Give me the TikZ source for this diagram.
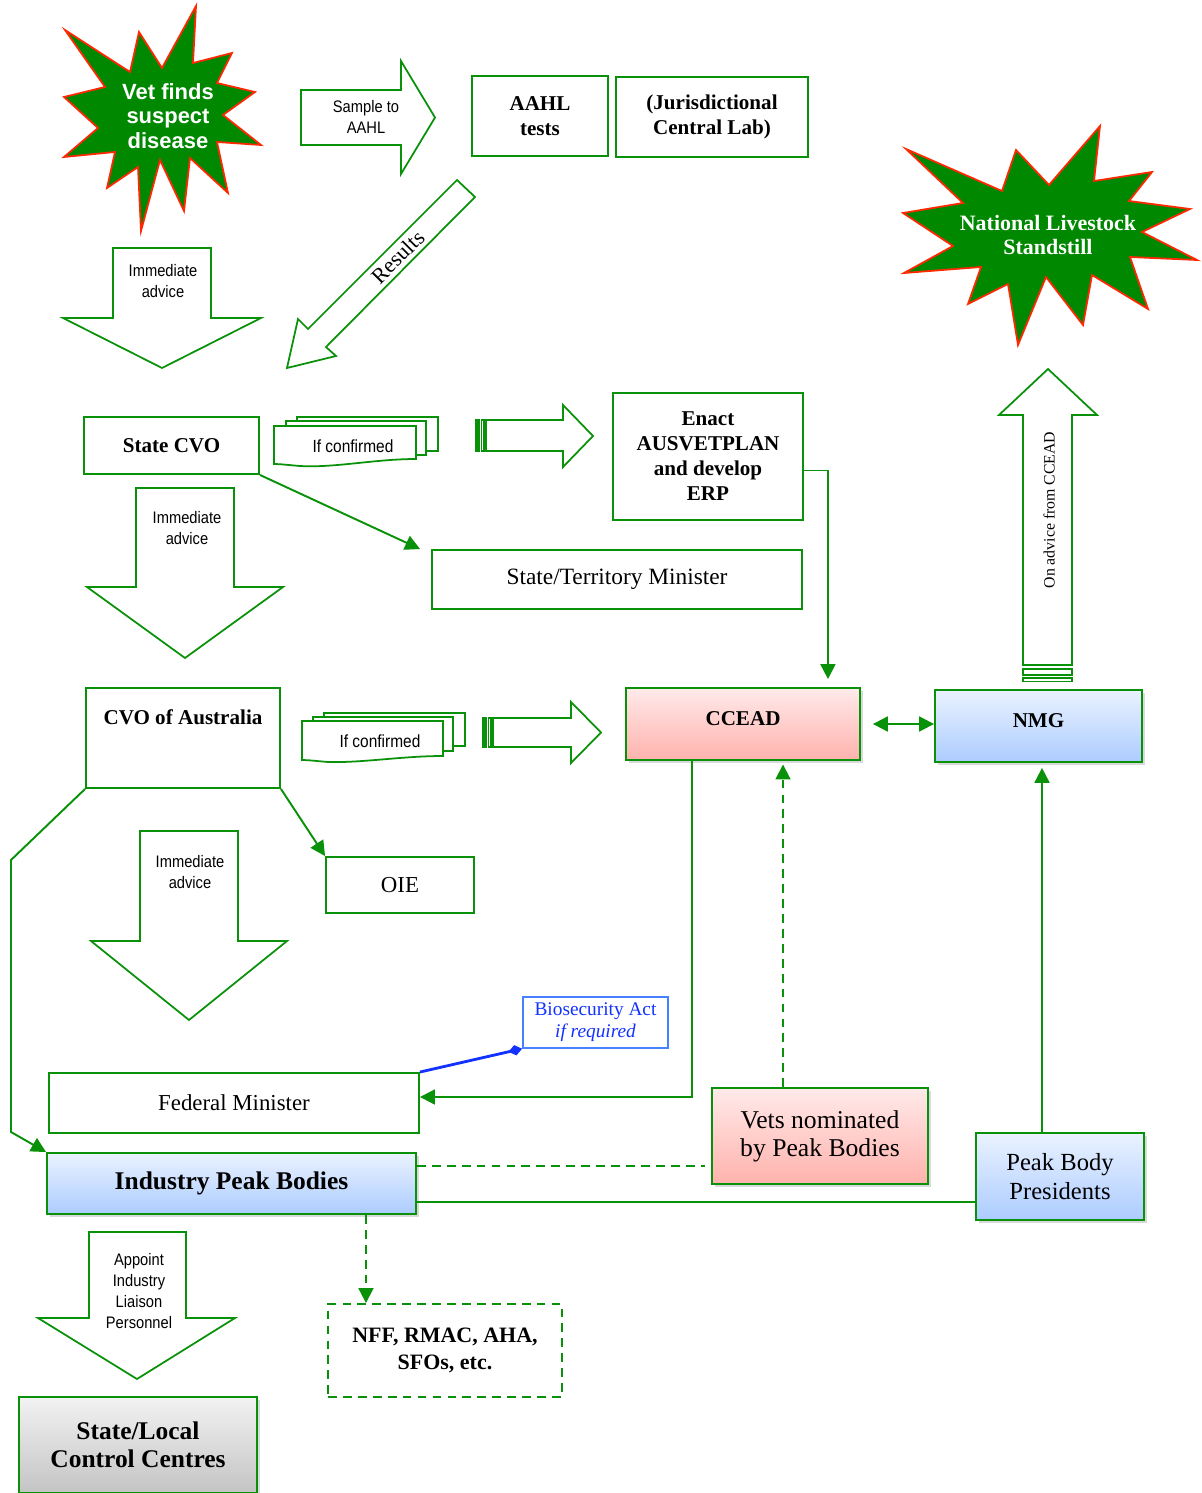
\documentclass[tikz,border=0pt]{standalone}
\usepackage{fontspec}
\setmainfont{Liberation Serif}
\setsansfont{Liberation Sans}
\newfontfamily\narrowsans[FakeStretch=0.88]{Liberation Sans}
\usepackage{tikz}
\usetikzlibrary{arrows.meta,shadows}
\definecolor{lgreen}{RGB}{10,145,10}
\definecolor{stargreen}{RGB}{0,136,0}
\definecolor{starred}{RGB}{255,40,0}
\definecolor{biblue}{RGB}{20,50,255}
\definecolor{bioframe}{RGB}{70,130,255}
\definecolor{pinktop}{RGB}{255,234,234}
\definecolor{pinkbot}{RGB}{255,178,172}
\definecolor{bluetop}{RGB}{234,242,255}
\definecolor{bluebot}{RGB}{172,204,255}
\definecolor{greytop}{RGB}{242,242,242}
\definecolor{greybot}{RGB}{196,196,196}

\begin{document}
\begin{tikzpicture}[x=0.02cm, y=-0.02cm,
  box/.style={draw=lgreen, line width=1.1pt, rectangle, align=center, fill=white},
  hbox/.style={box, font=\bfseries\fontsize{12}{14.2}\selectfont},
  rbox/.style={box, font=\fontsize{13}{15}\selectfont},
  shadowed/.style={drop shadow={opacity=0.3, shadow xshift=1.5pt, shadow yshift=-1.5pt}},
  pinkbox/.style={box, shadowed, top color=pinktop, bottom color=pinkbot},
  bluebox/.style={box, shadowed, top color=bluetop, bottom color=bluebot},
  greybox/.style={box, shadowed, top color=greytop, bottom color=greybot},
  conn/.style={draw=lgreen, line width=1.1pt, -{Triangle[length=8.5pt,width=8.5pt]}},
  dconn/.style={conn, dash pattern=on 5pt off 3.5pt},
  blockarrow/.style={draw=lgreen, line width=1pt, fill=white, line join=miter},
  doc/.style={draw=lgreen, line width=1pt, fill=white},
  arrowtext/.style={font=\narrowsans\fontsize{9.5}{11.5}\selectfont, align=center},
  burst/.style={fill=stargreen, draw=starred, line width=1pt, line join=miter}
]
\useasboundingbox (0,0) rectangle (1202,1493);

% Stars
\filldraw[burst] (196,6) -- (193,63) -- (232,53) -- (217,83) -- (255,92) -- (223,115)
  -- (261,145) -- (217,142) -- (228,193) -- (190,158) -- (184,211) -- (160,160)
  -- (141,231) -- (138,167) -- (107,188) -- (115,152) -- (64,157) -- (98,128)
  -- (64,97) -- (105,87) -- (65,30) -- (130,72) -- (139,32) -- (162,68) -- cycle;
\node[text=white, align=center, font=\sffamily\bfseries\fontsize{12.5}{14}\selectfont] (vet) at (168,116) {Vet finds\\suspect\\disease};

\filldraw[burst] (1100,126) -- (1094,181) -- (1152,172) -- (1129,201) -- (1190,209)
  -- (1142,232) -- (1197,260) -- (1130,257) -- (1148,309) -- (1092,275) -- (1083,325)
  -- (1046,277) -- (1018,345) -- (1008,284) -- (968,304) -- (981,267) -- (904,273)
  -- (953,246) -- (903,213) -- (963,203) -- (906,149) -- (1002,191) -- (1016,150)
  -- (1049,185) -- cycle;
\node[text=white, align=center, font=\bfseries\fontsize{12.5}{13.6}\selectfont] (nls) at (1048,235) {National Livestock\\Standstill};

% Block arrows
\draw[blockarrow] (301,90) -- (401,90) -- (401,61) -- (435,117.5) -- (401,174) -- (401,145) -- (301,145) -- cycle;
\node[arrowtext] (samp) at (366,117) {Sample to\\AAHL};

\draw[blockarrow] (457,180) -- (475,197) -- (326,347) -- (336,356) -- (287,368) -- (298,319) -- (308,329) -- cycle;
\node[rotate=45, font=\fontsize{12.5}{15}\selectfont] (res) at (398,257) {Results};

\draw[blockarrow] (113,248) -- (211,248) -- (211,318) -- (261,318) -- (162,368) -- (63,318) -- (113,318) -- cycle;
\node[arrowtext] (adv1) at (163,281) {Immediate\\advice};

\draw[blockarrow] (136,488) -- (234,488) -- (234,587) -- (283,587) -- (185,658) -- (87,587) -- (136,587) -- cycle;
\node[arrowtext] (adv2) at (187,528) {Immediate\\advice};

\draw[blockarrow] (140,831) -- (238,831) -- (238,941) -- (287,941) -- (189,1020) -- (91,941) -- (140,941) -- cycle;
\node[arrowtext] (adv3) at (190,872) {Immediate\\advice};

\draw[blockarrow] (89,1232) -- (186,1232) -- (186,1318) -- (235,1318) -- (137,1379) -- (38,1318) -- (89,1318) -- cycle;
\node[arrowtext, font=\narrowsans\fontsize{9.5}{12}\selectfont] (appt) at (139,1291) {Appoint\\Industry\\Liaison\\Personnel};

% Striped arrows
\filldraw[lgreen, line width=0.8pt] (476,420) rectangle (479.5,451);
\draw[lgreen, line width=0.8pt] (481.5,420) rectangle (484,451);
\draw[blockarrow] (486,420) -- (563,420) -- (563,405) -- (593,436) -- (563,467) -- (563,451) -- (486,451) -- cycle;

\filldraw[lgreen, line width=0.8pt] (483,718) rectangle (486.5,747);
\draw[lgreen, line width=0.8pt] (488.5,718) rectangle (491,747);
\draw[blockarrow] (493,718) -- (571,718) -- (571,702) -- (601,732.5) -- (571,763) -- (571,747) -- (493,747) -- cycle;

\draw[blockarrow] (1023,665) -- (1023,415) -- (999,415) -- (1048,369) -- (1097,415) -- (1072,415) -- (1072,665) -- cycle;
\draw[lgreen, line width=0.8pt] (1023,669) rectangle (1072,675);
\draw[lgreen, line width=0.8pt] (1023,678) rectangle (1072,681.5);
\node[rotate=90, font=\fontsize{9}{10}\selectfont] (adv4) at (1049,510) {On advice from CCEAD};

% If confirmed
\draw[doc] (297,417) rectangle (438,451);
\draw[doc] (286,421) rectangle (426,455);
\draw[doc] (274,426) -- (416,426) -- (416,459) .. controls (375,459) and (335,468) .. (300,466) .. controls (288,465) and (280,464) .. (274,464) -- cycle;
\node[arrowtext, font=\narrowsans\fontsize{10}{12}\selectfont] (conf1) at (353,446) {If confirmed};

\draw[doc] (324,713) rectangle (465,746);
\draw[doc] (313,717) rectangle (453,751);
\draw[doc] (302,721) -- (443,721) -- (443,756) .. controls (402,756) and (362,763) .. (328,762) .. controls (316,761) and (308,760) .. (302,760) -- cycle;
\node[arrowtext, font=\narrowsans\fontsize{10}{12}\selectfont] (conf2) at (380,741) {If confirmed};

% Boxes
\node[hbox, minimum width=2.72cm, minimum height=1.6cm] (aahl) at (540,116) {AAHL\\tests};
\node[hbox, minimum width=3.84cm, minimum height=1.6cm] (jcl) at (712,117) {(Jurisdictional\\Central Lab)};
\node[hbox, minimum width=3.5cm, minimum height=1.14cm] (scvo) at (171.5,445.5) {State CVO};
\node[hbox, minimum width=3.8cm, minimum height=2.54cm] (enact) at (708,456.5) {Enact\\AUSVETPLAN\\and develop\\ERP};
\node[rbox, font=\fontsize{13.3}{15}\selectfont, minimum width=7.4cm, minimum height=1.18cm] (stmin) at (617,579.5) {State/Territory Minister};
\node[hbox, minimum width=3.88cm, inner sep=0pt, text height=0.72cm, text depth=1.28cm] (cvoa) at (183,738) {CVO of Australia};
\node[rbox, minimum width=2.96cm, minimum height=1.12cm] (oie) at (400,885) {OIE};
\node[pinkbox, font=\bfseries\fontsize{12}{14}\selectfont, text depth=0.2cm, minimum width=4.68cm, minimum height=1.44cm] (ccead) at (743,724) {CCEAD};
\node[bluebox, font=\bfseries\fontsize{12}{14}\selectfont, text depth=0.2cm, minimum width=4.14cm, minimum height=1.44cm] (nmg) at (1038.5,726) {NMG};
\node[draw=bioframe, line width=1pt, text=biblue, align=center, fill=white, font=\fontsize{11}{12.5}\selectfont, minimum width=2.9cm, minimum height=0.98cm] (bio) at (595.5,1022.5) {Biosecurity Act\\\textit{if required}};
\node[rbox, minimum width=7.4cm, minimum height=1.2cm] (fedmin) at (234,1103) {Federal Minister};
\node[pinkbox, font=\fontsize{14.6}{16}\selectfont, minimum width=4.32cm, minimum height=1.92cm] (vets) at (820,1136) {Vets nominated\\by Peak Bodies};
\node[bluebox, font=\bfseries\fontsize{14.5}{16}\selectfont, minimum width=7.38cm, minimum height=1.22cm] (ipb) at (231.5,1183.5) {Industry Peak Bodies};
\node[bluebox, font=\fontsize{14}{16.5}\selectfont, minimum width=3.36cm, minimum height=1.74cm] (pbp) at (1060,1176.5) {Peak Body\\Presidents};
\node[box, dash pattern=on 5pt off 3.5pt, font=\bfseries\fontsize{12.5}{15.5}\selectfont, minimum width=4.68cm, minimum height=1.86cm] (nff) at (445,1350.5) {NFF, RMAC, AHA,\\SFOs, etc.};
\node[greybox, font=\bfseries\fontsize{14.5}{16}\selectfont, minimum width=4.76cm, minimum height=1.92cm] (slcc) at (138,1445) {State/Local\\Control Centres};

% Connectors
\draw[conn] (scvo.south east) -- ([xshift=-0.22cm]stmin.north west);
\draw[conn] ([yshift=-0.28cm]enact.east) -| ([xshift=-0.66cm,yshift=0.16cm]ccead.north east);
\draw[conn] (cvoa.south east) -- (oie.north west);
\coordinate (bendA) at (11,860);
\coordinate (bendB) at (11,1132);
\draw[conn] (cvoa.south west) -- (bendA) -- (bendB) -- (ipb.north west);
\draw[conn] ([xshift=-1.02cm]ccead.south) |- ([yshift=0.12cm]fedmin.east);
\draw[biblue, line width=1.6pt, -{Diamond[length=8pt,width=6pt]}] (fedmin.north east) -- (bio.south west);
\draw[conn, {Triangle[length=8.5pt,width=8.5pt]}-{Triangle[length=8.5pt,width=8.5pt]}, shorten <=6.8pt] (ccead.east) -- (ccead.east -| nmg.west);
\coordinate (vt) at ([xshift=-0.74cm]vets.north);
\draw[dconn, shorten >=2pt] (vt) -- (vt |- ccead.south);
\coordinate (pt) at ([xshift=-0.36cm]pbp.north);
\draw[conn, shorten >=2.8pt] (pt) -- (pt |- nmg.south);
\coordinate (ia) at ([yshift=0.35cm]ipb.east);
\draw[draw=lgreen, line width=1.1pt, dash pattern=on 5pt off 3.5pt] (ia) -- ([xshift=-0.12cm]ia -| vets.west);
\coordinate (ib) at ([yshift=-0.37cm]ipb.east);
\draw[draw=lgreen, line width=1.1pt] (ib) -- (ib -| pbp.west);
\coordinate (ic) at ([xshift=2.69cm]ipb.south);
\draw[dconn] (ic) -- (ic |- nff.north);
\end{tikzpicture}
\end{document}
